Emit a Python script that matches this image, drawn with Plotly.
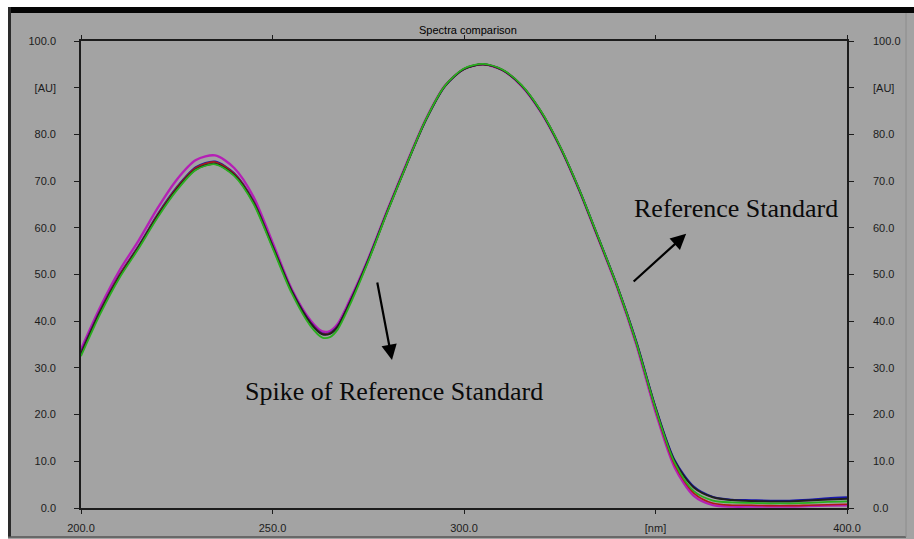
import plotly.graph_objects as go

# Wavelength grid (nm), sampled more finely around the absorption minimum
wavelength = [200, 205, 210, 215, 220, 225, 230, 235, 240, 245,
              250, 255, 260, 263, 265, 267, 270, 275, 280, 285, 290, 295,
              300, 305, 310, 315, 320, 325, 330, 335, 340, 345,
              350, 355, 360, 365, 370, 375, 380, 385, 390, 395, 400]

# Absorbance spectra [AU]
spec_black = [33.0, 42.0, 49.5, 55.8, 62.5, 68.3, 72.5, 73.7, 71.3, 65.5,
              56.0, 46.4, 39.5, 37.2, 37.3, 38.8, 43.6, 53.0, 63.5, 73.5,
              83.0, 90.3, 94.0, 95.0, 93.8, 90.5, 85.0, 77.5, 68.3, 58.0,
              47.5, 35.5, 21.5, 10.0, 4.4, 2.3, 1.7, 1.5, 1.4, 1.4, 1.6,
              1.8, 2.0]
spec_green = [32.5, 41.5, 49.2, 55.5, 62.2, 68.0, 72.4, 73.6, 71.1, 65.2,
              55.7, 46.0, 38.9, 36.5, 36.6, 38.2, 43.1, 52.8, 63.4, 73.5,
              83.1, 90.4, 94.1, 95.1, 93.9, 90.6, 85.1, 77.6, 68.4, 58.1,
              47.5, 35.4, 21.3, 9.7, 3.6, 1.6, 1.2, 1.1, 1.0, 1.0, 1.1,
              1.3, 1.4]
spec_magenta = [34.0, 43.0, 50.8, 57.2, 64.2, 70.3, 74.5, 75.5, 72.8, 66.7,
                56.9, 46.9, 40.1, 37.8, 37.9, 39.4, 44.2, 53.4, 63.8, 73.8,
                83.2, 90.4, 94.0, 95.0, 93.8, 90.4, 84.9, 77.4, 68.2, 57.8,
                47.2, 35.0, 20.6, 8.7, 2.6, 0.6, 0.3, 0.3, 0.3, 0.3, 0.4,
                0.5, 0.6]
spec_red = [33.2, 42.2, 49.8, 56.0, 62.8, 68.6, 72.9, 74.1, 71.6, 65.7,
            56.2, 46.5, 39.6, 37.3, 37.4, 38.9, 43.7, 53.1, 63.6, 73.6,
            83.1, 90.4, 94.0, 95.0, 93.8, 90.5, 85.0, 77.5, 68.3, 57.9,
            47.4, 35.3, 21.1, 9.3, 3.2, 1.0, 0.6, 0.6, 0.5, 0.5, 0.6,
            0.7, 0.8]
spec_blue = [33.4, 42.3, 49.9, 56.1, 62.9, 68.7, 73.0, 74.2, 71.7, 65.8,
             56.3, 46.6, 39.7, 37.4, 37.5, 39.0, 43.8, 53.2, 63.6, 73.6,
             83.0, 90.3, 94.0, 95.0, 93.8, 90.5, 85.0, 77.5, 68.4, 58.1,
             47.6, 35.7, 21.7, 10.3, 4.6, 2.4, 1.8, 1.7, 1.6, 1.6, 1.8,
             2.1, 2.3]

# Axis ticks
y_tickvals = [0, 10, 20, 30, 40, 50, 60, 70, 80, 90, 100]
y_ticktext = ["0.0", "10.0", "20.0", "30.0", "40.0", "50.0", "60.0",
              "70.0", "80.0", "[AU]", "100.0"]
x_tickvals = [200, 250, 300, 350, 400]
x_ticktext = ["200.0", "250.0", "300.0", "[nm]", "400.0"]

GRAY = "#a3a3a3"
INK = "#1c1c1c"

fig = go.Figure()
series = [
    (spec_magenta, "#b51fb5", 2.4),
    (spec_blue, "#1818b0", 1.8),
    (spec_red, "#b01818", 1.6),
    (spec_black, "#202020", 2.0),
    (spec_green, "#2aae1f", 1.8),
]
for vals, col, w in series:
    fig.add_trace(go.Scatter(
        x=wavelength, y=vals, mode="lines",
        line=dict(color=col, width=w, shape="spline", smoothing=0.8),
        showlegend=False, hoverinfo="skip"))

# Carrier for the mirrored right-hand axis (not drawn)
fig.add_trace(go.Scatter(x=[wavelength[0]], y=[spec_black[0]], yaxis="y2",
                         mode="lines", line=dict(width=0), opacity=0,
                         showlegend=False, hoverinfo="skip"))

tick_font = dict(family="Liberation Sans, Arial, sans-serif", size=11, color=INK)

fig.update_layout(
    width=914, height=539,
    margin=dict(l=81, r=67, t=41, b=31, autoexpand=False),
    paper_bgcolor=GRAY, plot_bgcolor=GRAY,
    xaxis=dict(range=[200, 400], tickvals=x_tickvals, ticktext=x_ticktext,
               showgrid=False, zeroline=False, showline=True, linecolor=INK,
               linewidth=1.6, mirror="ticks", ticks="outside", ticklen=4,
               tickcolor=INK, tickfont=tick_font, ticklabelstandoff=5,
               automargin=False),
    yaxis=dict(range=[0, 100], tickvals=y_tickvals, ticktext=y_ticktext,
               showgrid=False, zeroline=False, showline=True, linecolor=INK,
               linewidth=1.6, ticks="outside", ticklen=5, tickcolor=INK,
               tickfont=tick_font, ticklabelstandoff=16, automargin=False),
    yaxis2=dict(range=[0, 100], tickvals=y_tickvals, ticktext=y_ticktext,
                overlaying="y", side="right", showgrid=False, zeroline=False,
                showline=True, linecolor=INK, linewidth=1.6, ticks="outside",
                ticklen=5, tickcolor=INK, tickfont=tick_font,
                ticklabelstandoff=17, automargin=False),
)

# Window frame: white margin, black title bar edge and left border
fig.add_shape(type="rect", xref="paper", yref="paper",
              x0=-0.2, x1=1.2, y0=(508 - 7) / 467, y1=1.3,
              fillcolor="white", line_width=0, layer="below")
fig.add_shape(type="rect", xref="paper", yref="paper",
              x0=(8 - 81) / 766, x1=1.2, y0=(508 - 13) / 467, y1=(508 - 7) / 467,
              fillcolor="#050505", line_width=0, layer="below")
fig.add_shape(type="rect", xref="paper", yref="paper",
              x0=-0.2, x1=(8 - 81) / 766, y0=-0.2, y1=1.3,
              fillcolor="white", line_width=0, layer="below")
fig.add_shape(type="rect", xref="paper", yref="paper",
              x0=(8 - 81) / 766, x1=(11 - 81) / 766, y0=(508 - 537) / 467,
              y1=(508 - 7) / 467, fillcolor="#2a2a2a", line_width=0, layer="below")
fig.add_shape(type="line", xref="paper", yref="paper",
              x0=(8 - 81) / 766, x1=(906 - 81) / 766,
              y0=(508 - 537) / 467, y1=(508 - 537) / 467,
              line=dict(color="#555555", width=1.5), layer="below")
fig.add_shape(type="line", xref="paper", yref="paper",
              x0=(906 - 81) / 766, x1=(906 - 81) / 766,
              y0=(508 - 537) / 467, y1=(508 - 13) / 467,
              line=dict(color="#8c8c8c", width=1), layer="below")

# Chart title
fig.add_annotation(text="Spectra comparison", xref="paper", yref="paper",
                   x=(468 - 81) / 766, y=(508 - 30) / 467,
                   xanchor="center", yanchor="middle", showarrow=False,
                   font=dict(family="Liberation Sans, Arial, sans-serif",
                             size=11, color="#000000"))

serif = dict(family="Liberation Serif, Times New Roman, serif", size=26,
             color="#0a0a0a")
fig.add_annotation(text="Spike of Reference Standard", x=281.7, y=25.0,
                   showarrow=False, font=serif)
fig.add_annotation(text="Reference Standard", x=371.0, y=64.2,
                   showarrow=False, font=serif)

# Pointer arrows
fig.add_annotation(x=281.2, y=31.7, ax=-15, ay=-79, text="", showarrow=True,
                   arrowhead=2, arrowsize=1.4, arrowwidth=2.2,
                   arrowcolor="#000000")
fig.add_annotation(x=358.0, y=58.7, ax=-54, ay=49, text="", showarrow=True,
                   arrowhead=2, arrowsize=1.4, arrowwidth=2.2,
                   arrowcolor="#000000")

fig.write_html("out.html")
